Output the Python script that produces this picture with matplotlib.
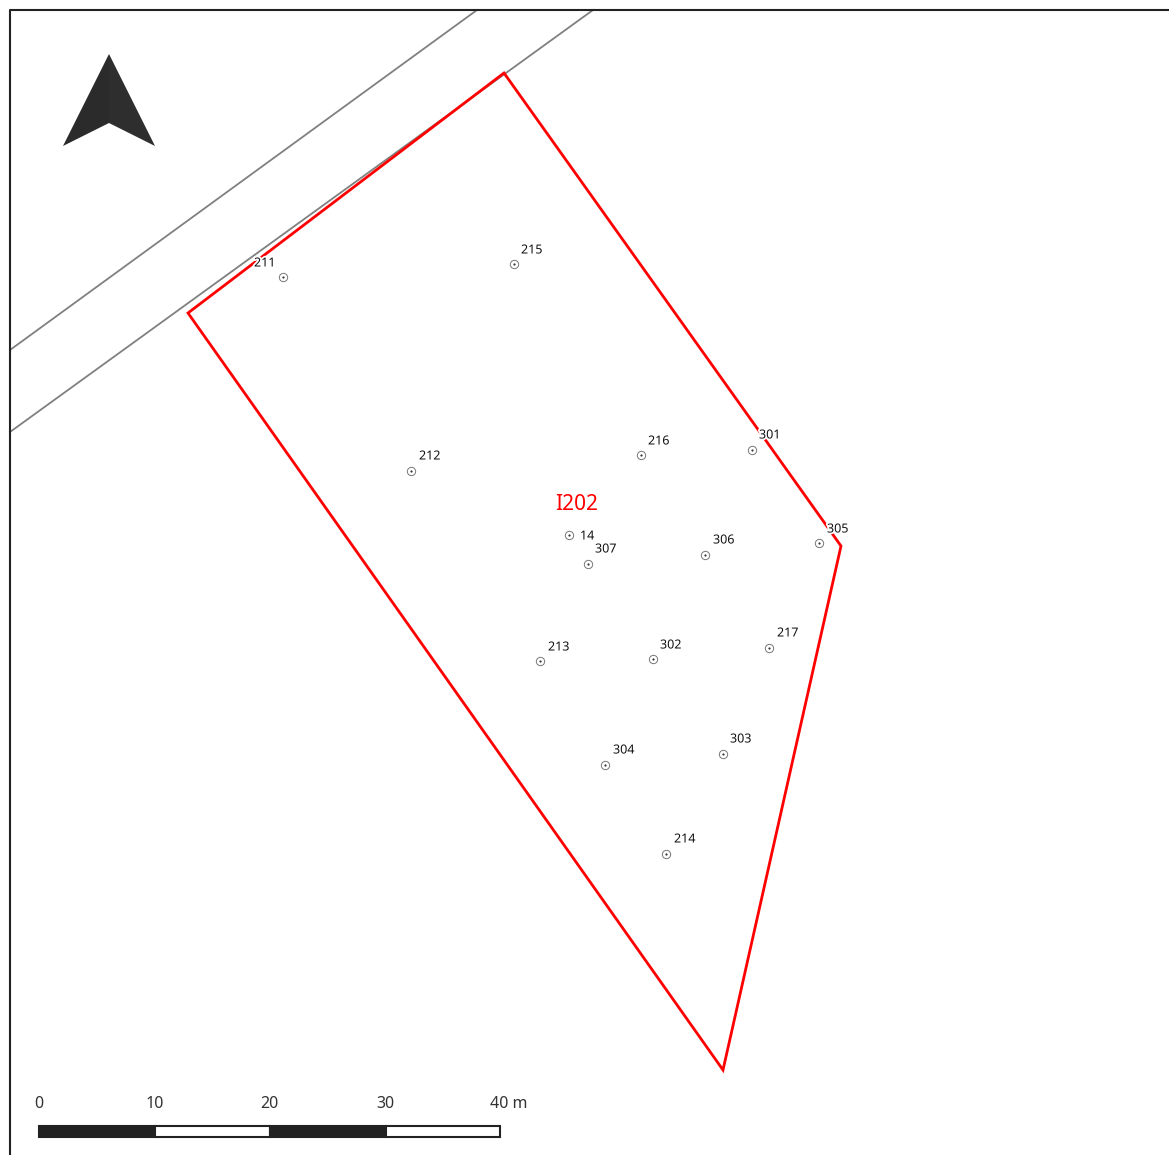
import numpy as np
import matplotlib.pyplot as plt
import matplotlib.patheffects as pe
from matplotlib.patches import Polygon, Rectangle

plt.rcParams['font.family'] = ['Noto Sans', 'DejaVu Sans']

# everything in image pixels
plot_names = ['211', '212', '215', '216', '301', '14', '307', '306', '305',
              '213', '302', '217', '304', '303', '214']
plot_x = [282.5, 410.5, 513.5, 640.5, 751.5, 568.5, 587.5, 704.5, 818.5, 539.5, 652.5, 768.5, 604.5, 722.5, 665.5]
plot_y = [276.5, 470.5, 263.5, 454.5, 449.5, 534.5, 563.5, 554.5, 542.5, 660.5, 658.5, 647.5, 764.5, 753.5, 853.5]
label_x = [254, 419, 521, 648, 759, 580, 595, 713, 827, 548, 660, 777, 613, 730, 674]
label_y = [263, 456, 250, 441, 435, 536, 549, 540, 529, 647, 645, 633, 750, 739, 839]

parcel_x = [504, 841, 723, 188]
parcel_y = [73, 546, 1070, 313]
parcel_name = 'I202'

road_a_x = [10, 477]
road_a_y = [350, 10]
road_b_x = [10, 593]
road_b_y = [432, 10]

arrow_left_x = [109, 63, 109]
arrow_left_y = [54, 146, 123]
arrow_right_x = [109, 155, 109]
arrow_right_y = [54, 146, 123]

scale_ticks = [39, 154.5, 269.5, 385.5, 500]
scale_labels = ['0', '10', '20', '30', '40 m']

fig = plt.figure(figsize=(11.69, 11.55), dpi=100)
ax = fig.add_axes([0, 0, 1, 1])
ax.set_xlim(0, 1169)
ax.set_ylim(1155, 0)
ax.axis('off')

# map frame, only left and top are visible in the crop
ax.plot([9.5, 9.5, 1169], [1155, 10, 10], color='#222222', lw=1.5, zorder=5)

ax.plot(road_a_x, road_a_y, color='#808080', lw=1.3, zorder=1)
ax.plot(road_b_x, road_b_y, color='#808080', lw=1.3, zorder=1)

ax.add_patch(Polygon(np.column_stack([parcel_x, parcel_y]), closed=True, fill=False,
                     edgecolor='#ff0000', lw=2.0, joinstyle='miter', zorder=2))
ax.text(577, 504, parcel_name, color='#ff0000', fontsize=15, ha='center', va='center', zorder=4)

# sample points: small ring with a dot
ax.scatter(plot_x, plot_y, s=36, facecolor='white', edgecolor='#777777', lw=0.7, zorder=3)
ax.scatter(plot_x, plot_y, s=2.5, color='#333333', lw=0, zorder=3)
for name, x, y in zip(plot_names, label_x, label_y):
    ax.text(x, y, name, fontsize=9, color='#111111', ha='left', va='center', zorder=4,
            path_effects=[pe.withStroke(linewidth=2.5, foreground='white')])

# north arrow
ax.add_patch(Polygon(np.column_stack([arrow_left_x, arrow_left_y]), color='#2b2b2b', lw=0, zorder=3))
ax.add_patch(Polygon(np.column_stack([arrow_right_x, arrow_right_y]), color='#2e2e2e', lw=0, zorder=3))

# scale bar
for i in range(4):
    color = '#222222' if i % 2 == 0 else 'white'
    ax.add_patch(Rectangle((scale_ticks[i], 1126), scale_ticks[i + 1] - scale_ticks[i], 11,
                           facecolor=color, edgecolor='#222222', lw=1.5, zorder=3))
for x, lab in zip(scale_ticks, scale_labels):
    if lab == '40 m':
        ax.text(490.5, 1104, lab, fontsize=11.5, color='#333333', ha='left', va='center')
    else:
        ax.text(x, 1104, lab, fontsize=11.5, color='#333333', ha='center', va='center')

fig.savefig('out.png', dpi=100, facecolor='white')
